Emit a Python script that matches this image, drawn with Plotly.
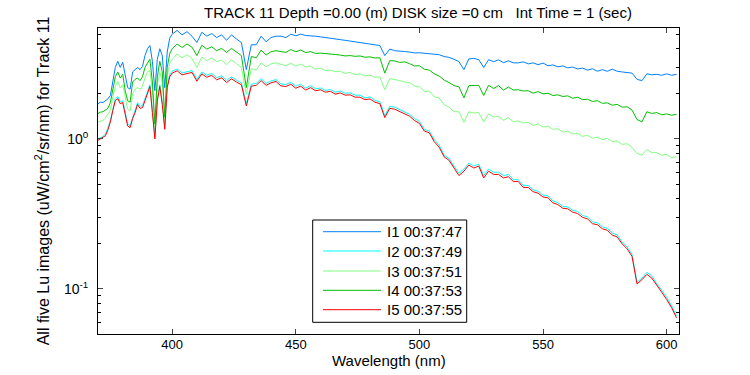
import plotly.graph_objects as go

# Wavelength grid (nm)
wavelength = list(range(370, 401)) + list(range(402, 605, 2))

series_names = ["I1 00:37:47", "I2 00:37:49", "I3 00:37:51", "I4 00:37:53", "I5 00:37:55"]
series_colors = ["#0080FF", "#00FFFF", "#80FF80", "#00C000", "#FF0000"]

# I1 (blue)
i1 = [1.72, 1.76, 1.75, 1.80, 1.85, 1.95, 2.4, 3.0, 3.3, 3.0,
      3.25, 2.6, 2.2, 2.15, 2.8, 2.9, 3.0, 2.9, 3.05, 3.6,
      4.0, 4.2, 3.3, 2.1, 3.4, 4.0, 3.6, 2.2, 3.8, 4.7,
      5.0,
      5.3, 4.95, 5.2, 4.85, 4.4, 5.15, 4.85, 5.05, 4.75, 4.95,
      4.55, 4.95, 4.65, 4.4, 2.9, 4.25, 4.25, 4.85, 4.45, 4.75,
      4.85, 4.85, 4.75, 5.0, 4.88, 5.0, 4.9, 4.9, 4.85, 4.8,
      4.75, 4.75, 4.7, 4.6, 4.55, 4.5, 4.45, 4.4, 4.35, 4.3,
      4.25, 4.2, 3.6, 3.98, 3.88, 3.87, 3.83, 3.8, 3.75, 3.76,
      3.74, 3.72, 3.7, 3.65, 3.55, 3.5, 3.4, 3.28, 2.9, 3.42,
      3.45, 3.38, 3.0, 3.38, 3.28, 3.37, 3.23, 3.32, 3.22, 3.22,
      3.27, 3.17, 3.22, 3.13, 3.21, 3.08, 3.12, 3.03, 3.07, 2.98,
      3.02, 2.93, 2.97, 2.88, 2.94, 2.83, 2.9, 2.83, 2.92, 2.83,
      2.8, 2.78, 2.75, 2.5, 2.45, 2.72, 2.68, 2.7, 2.66, 2.72,
      2.66, 2.7]

# I2 (cyan)
i2 = [1.0, 1.02, 1.04, 1.08, 1.18, 1.33, 1.6, 1.85, 1.92, 1.77,
      1.8, 1.5, 1.26, 1.23, 1.41, 1.55, 1.75, 1.65, 1.67, 1.85,
      2.06, 2.3, 1.55, 1.03, 1.85, 2.3, 1.75, 1.2, 2.26, 2.68,
      2.83,
      2.93, 2.76, 2.8, 2.86, 2.5, 2.8, 2.66, 2.74, 2.56, 2.64,
      2.45, 2.6, 2.47, 2.37, 1.71, 2.32, 2.35, 2.52, 2.35, 2.44,
      2.49, 2.33, 2.31, 2.39, 2.25, 2.32, 2.18, 2.27, 2.16, 2.19,
      2.11, 2.14, 2.05, 2.09, 2.02, 2.03, 1.96, 1.96, 1.88, 1.91,
      1.81, 1.77, 1.43, 1.65, 1.63, 1.57, 1.5, 1.46, 1.37, 1.31,
      1.16, 1.13, 0.99, 0.91, 0.78, 0.74, 0.66, 0.59, 0.63, 0.69,
      0.66, 0.68, 0.57, 0.63, 0.6, 0.6, 0.57, 0.58, 0.535, 0.535,
      0.49, 0.49, 0.458, 0.448, 0.422, 0.417, 0.386, 0.376, 0.355, 0.352,
      0.335, 0.328, 0.309, 0.302, 0.28, 0.276, 0.26, 0.253, 0.236, 0.229,
      0.206, 0.19, 0.17, 0.111, 0.118, 0.129, 0.122, 0.108, 0.098, 0.088,
      0.077, 0.066]

# I3 (light green)
i3 = [1.3, 1.32, 1.33, 1.38, 1.45, 1.55, 1.9, 2.25, 2.42, 2.2,
      2.3, 1.85, 1.58, 1.54, 2.0, 2.15, 2.2, 2.15, 2.25, 2.55,
      2.8, 2.85, 2.1, 1.2, 2.3, 2.8, 2.4, 1.3, 2.6, 3.2,
      3.4,
      3.7, 3.48, 3.65, 3.45, 3.0, 3.52, 3.33, 3.47, 3.28, 3.37,
      3.13, 3.37, 3.18, 3.0, 1.99, 2.95, 2.88, 3.22, 3.03, 3.17,
      3.22, 3.15, 3.08, 3.2, 3.06, 3.16, 3.02, 3.07, 2.92, 2.97,
      2.86, 2.88, 2.81, 2.83, 2.74, 2.78, 2.68, 2.72, 2.63, 2.67,
      2.58, 2.6, 2.13, 2.53, 2.5, 2.45, 2.4, 2.38, 2.26, 2.23,
      2.08, 2.08, 1.91, 1.88, 1.69, 1.63, 1.52, 1.52, 1.29, 1.52,
      1.49, 1.5, 1.3, 1.47, 1.4, 1.42, 1.33, 1.39, 1.3, 1.32,
      1.28, 1.29, 1.23, 1.26, 1.2, 1.22, 1.16, 1.17, 1.11, 1.13,
      1.08, 1.09, 1.04, 1.06, 1.01, 1.03, 0.99, 1.01, 0.96, 0.97,
      0.92, 0.93, 0.88, 0.8, 0.78, 0.85, 0.81, 0.81, 0.78, 0.79,
      0.75, 0.76]

# I4 (green)
i4 = [1.48, 1.51, 1.52, 1.55, 1.6, 1.75, 2.2, 2.6, 2.8, 2.55,
      2.7, 2.1, 1.8, 1.76, 2.4, 2.5, 2.55, 2.45, 2.6, 3.0,
      3.2, 3.4, 2.4, 1.26, 2.6, 3.3, 2.8, 1.4, 3.0, 3.7,
      4.0,
      4.3, 4.08, 4.3, 4.1, 3.6, 4.22, 3.98, 4.12, 3.88, 4.02,
      3.78, 4.02, 3.83, 3.6, 2.2, 3.55, 3.48, 3.92, 3.63, 3.82,
      3.88, 3.85, 3.78, 3.95, 3.82, 3.92, 3.77, 3.83, 3.72, 3.74,
      3.7, 3.68, 3.66, 3.63, 3.58, 3.6, 3.56, 3.58, 3.51, 3.53,
      3.47, 3.48, 2.75, 3.33, 3.32, 3.24, 3.27, 3.18, 3.07, 3.08,
      2.92, 2.88, 2.72, 2.63, 2.47, 2.38, 2.27, 2.23, 1.88, 2.27,
      2.27, 2.28, 1.95, 2.28, 2.17, 2.27, 2.12, 2.22, 2.12, 2.13,
      2.09, 2.1, 2.02, 2.07, 2.0, 2.02, 1.95, 1.97, 1.92, 1.94,
      1.87, 1.9, 1.83, 1.84, 1.78, 1.8, 1.73, 1.74, 1.68, 1.7,
      1.63, 1.64, 1.56, 1.35, 1.3, 1.52, 1.48, 1.5, 1.45, 1.47,
      1.44, 1.46]

# I5 (red)
i5 = [0.98, 1.0, 1.02, 1.05, 1.15, 1.3, 1.55, 1.8, 1.86, 1.72,
      1.75, 1.45, 1.22, 1.19, 1.37, 1.5, 1.7, 1.6, 1.62, 1.8,
      2.0, 2.24, 1.5, 1.0, 1.8, 2.24, 1.7, 1.16, 2.2, 2.6,
      2.75,
      2.85, 2.68, 2.72, 2.78, 2.43, 2.72, 2.58, 2.66, 2.48, 2.56,
      2.38, 2.52, 2.4, 2.3, 1.66, 2.25, 2.28, 2.45, 2.28, 2.37,
      2.42, 2.26, 2.24, 2.32, 2.18, 2.25, 2.12, 2.2, 2.1, 2.13,
      2.05, 2.08, 1.99, 2.03, 1.96, 1.97, 1.9, 1.9, 1.83, 1.85,
      1.76, 1.72, 1.39, 1.6, 1.58, 1.52, 1.46, 1.42, 1.33, 1.27,
      1.13, 1.1, 0.96, 0.88, 0.76, 0.72, 0.64, 0.57, 0.61, 0.67,
      0.64, 0.66, 0.55, 0.61, 0.58, 0.58, 0.55, 0.56, 0.52, 0.52,
      0.475, 0.475, 0.445, 0.435, 0.41, 0.405, 0.375, 0.365, 0.345, 0.342,
      0.325, 0.318, 0.3, 0.293, 0.272, 0.268, 0.252, 0.246, 0.229, 0.222,
      0.2, 0.185, 0.165, 0.108, 0.115, 0.125, 0.118, 0.105, 0.095, 0.085,
      0.075, 0.064]

x_tick_vals = [400, 450, 500, 550, 600]
y_major_vals = [0.1, 1]
y_major_text = ["10<sup>-1</sup>", "10<sup>0</sup>"]
y_minor_vals = [0.05, 0.06, 0.07, 0.08, 0.09, 0.2, 0.3, 0.4, 0.5, 0.6, 0.7, 0.8, 0.9, 2, 3, 4, 5]

FONT = "Liberation Sans, Arial, Helvetica, sans-serif"

fig = go.Figure()
for name, color, vals in zip(series_names, series_colors, [i1, i2, i3, i4, i5]):
    fig.add_trace(go.Scatter(x=wavelength, y=vals, mode="lines", name=name,
                             line=dict(color=color, width=1), showlegend=False))

# Plot area geometry in pixels
W, H = 750, 375
L, R, T, B = 98, 71, 28, 41
pw, ph = W - L - R, H - T - B

def px(x):
    return (x - L) / pw

def py(y):
    return (H - B - y) / ph

shapes = []
annotations = []
# legend box
shapes.append(dict(type="rect", xref="paper", yref="paper",
                   x0=px(312.7), x1=px(466.7), y0=py(322.3), y1=py(220),
                   line=dict(color="black", width=1), fillcolor="white", layer="above"))
row_y = [231.7, 251, 271, 290.3, 309.7]
for name, color, ry in zip(series_names, series_colors, row_y):
    shapes.append(dict(type="line", xref="paper", yref="paper",
                       x0=px(323), x1=px(381), y0=py(ry), y1=py(ry),
                       line=dict(color=color, width=1), layer="above"))
    annotations.append(dict(text=name, xref="paper", yref="paper", x=px(385), y=py(ry),
                            xanchor="left", yanchor="middle", showarrow=False,
                            font=dict(family=FONT, size=15, color="black")))

# x-axis title
annotations.append(dict(text="Wavelength (nm)", xref="paper", yref="paper",
                        x=0.5, y=py(360), xanchor="center", yanchor="middle",
                        showarrow=False, borderpad=0,
                        font=dict(family=FONT, size=15, color="black")))

fig.update_layout(
    width=W, height=H,
    margin=dict(l=L, r=R, t=T, b=B, pad=0),
    paper_bgcolor="white", plot_bgcolor="white",
    font=dict(family=FONT, size=13, color="black"),
    title=dict(text="TRACK 11 Depth =0.00 (m) DISK size =0 cm   Int Time = 1 (sec)",
               xref="paper", x=px(418), xanchor="center",
               yref="container", y=1 - 13 / H, yanchor="middle",
               font=dict(family=FONT, size=15, color="black")),
    shapes=shapes, annotations=annotations,
    showlegend=False, hovermode=False,
)
fig.update_xaxes(range=[370, 605], tickvals=x_tick_vals, ticks="inside", ticklen=5,
                 showline=True, linecolor="black", linewidth=1, mirror="ticks",
                 showgrid=False, zeroline=False, tickfont=dict(size=13),
                 ticklabelstandoff=-2)
fig.update_yaxes(type="log", range=[-1.30103, 0.74036],
                 tickvals=y_major_vals, ticktext=y_major_text, ticks="inside", ticklen=5,
                 minor=dict(tickvals=y_minor_vals, ticks="inside", ticklen=3, showgrid=False,
                            tickcolor="black"),
                 showline=True, linecolor="black", linewidth=1, mirror="ticks",
                 showgrid=False, zeroline=False, tickfont=dict(size=14),
                 ticklabelstandoff=6,
                 title=dict(text="All five Lu images (uW/cm<sup>2</sup>/sr/nm) for Track 11",
                            font=dict(size=16), standoff=10))

# remove the default page margin so the figure sits at the window's top-left corner
fig.write_html("out.html", config={"displayModeBar": False},
               post_script="document.body.style.margin='0';document.body.style.padding='0';")
